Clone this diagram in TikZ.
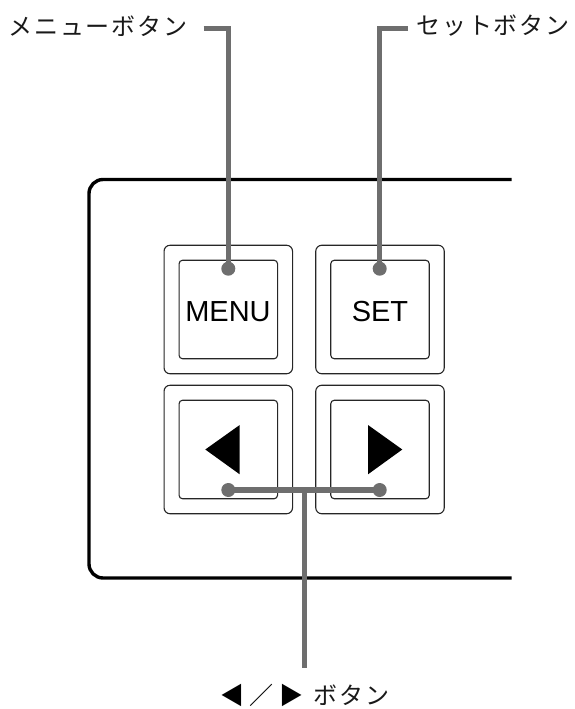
\documentclass[tikz,border=0pt]{standalone}
\usepackage{fontspec}
\setmainfont{Liberation Sans}
\newfontfamily\cjk[LetterSpace=8]{Noto Sans CJK JP}
\newfontfamily\cjksym[LetterSpace=24]{Noto Sans CJK JP}
\definecolor{leadgray}{HTML}{6E6E6E}
\tikzset{
  frameline/.style={line width=3.4pt,black,rounded corners=14pt},
  outerkey/.style={draw=black!85,line width=1.1pt,fill=white,rounded corners=6pt,minimum width=128.5pt,minimum height=128.5pt,inner sep=0pt},
  innerkey/.style={draw=black!85,line width=1.1pt,rounded corners=3.5pt,minimum width=98.5pt,minimum height=98.5pt,inner sep=0pt},
  keytext/.style={inner sep=0pt,font=\fontsize{29}{32}\selectfont},
  leader/.style={line width=5.2pt,leadgray},
  dotmark/.style={circle,fill=leadgray,minimum size=14pt,inner sep=0pt},
  jlabel/.style={inner sep=0pt,font=\cjk\fontsize{24}{26}\selectfont,text=black!90},
  jsym/.style={inner sep=0pt,font=\cjksym\fontsize{24}{26}\selectfont,text=black},
  arrowmark/.style={fill=black}
}
\begin{document}
\begin{tikzpicture}[x=1pt,y=-1pt]
\useasboundingbox (0,0) rectangle (575,709);
\draw[frameline] (511.5,179.5) -- (89,179.5) -- (89,578) -- (511.5,578);
\node[outerkey] (o1) at (228.3,309.5) {};
\node[outerkey] (o2) at (380,309.5) {};
\node[outerkey] (o3) at (228.3,449.5) {};
\node[outerkey] (o4) at (380,449.5) {};
\node[innerkey] (k1) at (228.3,309.5) {};
\node[innerkey] (k2) at (380,309.5) {};
\node[innerkey] (k3) at (228.3,449.5) {};
\node[innerkey] (k4) at (380,449.5) {};
\node[keytext] (t1) at (228,312) {MENU};
\node[keytext] (t2) at (380,312) {SET};
\fill[arrowmark] (205.3,449.5) -- (239.7,425) -- (239.7,474.3) -- cycle;
\fill[arrowmark] (402.3,449.5) -- (368,425) -- (368,474.3) -- cycle;
\node[dotmark] (d1) at (228.3,268.7) {};
\node[dotmark] (d2) at (379.7,268.7) {};
\node[dotmark] (d3) at (228.3,490) {};
\node[dotmark] (d4) at (379.7,490) {};
\node[jlabel,anchor=west] (l1) at (8,26) {メニューボタン};
\node[jlabel,anchor=west] (l2) at (416,26) {セットボタン};
\node[jsym,anchor=west] (l3) at (220,695) {◀／▶};
\node[jlabel,anchor=west] (l4) at (313,695) {ボタン};
\coordinate (s1) at (203.5,28.7);
\coordinate (s2) at (408,28.7);
\coordinate (tee) at (304.3,490);
\coordinate (s3) at (304.3,668);
\draw[leader] (s1) -| (d1.center);
\draw[leader] (s2) -| (d2.center);
\draw[leader] (d3.center) -- (d4.center);
\draw[leader] (tee) -- (s3);
\end{tikzpicture}
\end{document}
